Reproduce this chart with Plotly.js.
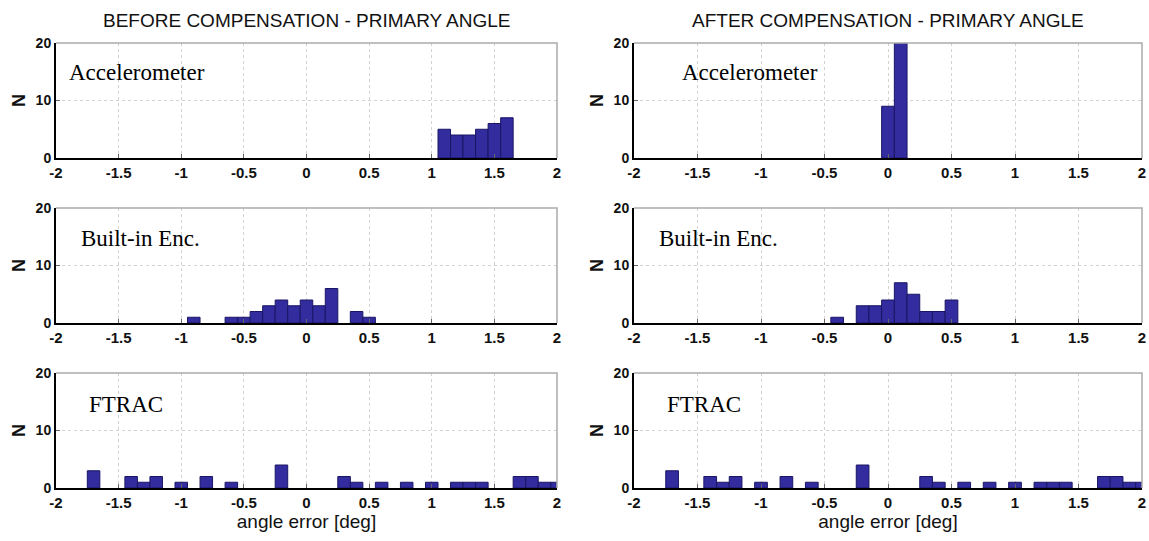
<!DOCTYPE html>
<html>
<head>
<meta charset="utf-8">
<script src="https://cdn.plot.ly/plotly-3.0.1.min.js"></script>
<style>html,body{margin:0;padding:0;background:#fff;}#chart{width:1149px;height:541px;}</style>
</head>
<body>
<div id="chart"></div>
<script>
// ---- data (bin centres in deg, bin width 0.1; counts N) ----
const accBeforeX = [1.1, 1.2, 1.3, 1.4, 1.5, 1.6];
const accBeforeN = [5, 4, 4, 5, 6, 7];
const accAfterX = [0, 0.1];
const accAfterN = [9, 22];
const encBeforeX = [-0.9, -0.6, -0.5, -0.4, -0.3, -0.2, -0.1, 0, 0.1, 0.2, 0.4, 0.5];
const encBeforeN = [1, 1, 1, 2, 3, 4, 3, 4, 3, 6, 2, 1];
const encAfterX = [-0.4, -0.2, -0.1, 0, 0.1, 0.2, 0.3, 0.4, 0.5];
const encAfterN = [1, 3, 3, 4, 7, 5, 2, 2, 4];
const ftracX = [-1.7, -1.4, -1.3, -1.2, -1.0, -0.8, -0.6, -0.2, 0.3, 0.4, 0.6, 0.8, 1.0, 1.2, 1.3, 1.4, 1.7, 1.8, 1.9, 2.0];
const ftracN = [3, 2, 1, 2, 1, 2, 1, 4, 2, 1, 1, 1, 1, 1, 1, 1, 2, 2, 1, 1];
const xTickVals = [-2, -1.5, -1, -0.5, 0, 0.5, 1, 1.5, 2];
const xTickText = ['-2', '-1.5', '-1', '-0.5', '0', '0.5', '1', '1.5', '2'];
const yTickVals = [0, 10, 20];
const panelLabels = ['Accelerometer', 'Built-in Enc.', 'FTRAC'];
const columnTitles = ['BEFORE COMPENSATION - PRIMARY ANGLE', 'AFTER COMPENSATION - PRIMARY ANGLE'];
const xTitle = 'angle error [deg]';
const yTitle = 'N';

const W = 1149, H = 541;
const colPx = [[56, 557], [634, 1142]];
const rowPx = [[43, 158], [208, 323], [373, 488]];
const barColor = 'rgb(50,44,158)';
const edgeColor = 'rgb(26,22,100)';
const sans = 'Liberation Sans, Arial, sans-serif';

const panels = [
  [accBeforeX, accBeforeN], [accAfterX, accAfterN],
  [encBeforeX, encBeforeN], [encAfterX, encAfterN],
  [ftracX, ftracN], [ftracX, ftracN]
];

const data = [];
const layout = {
  width: W, height: H,
  margin: {l: 0, r: 0, t: 0, b: 0},
  paper_bgcolor: '#fff', plot_bgcolor: '#fff',
  showlegend: false, bargap: 0,
  font: {family: sans, color: '#000'},
  annotations: [], shapes: []
};

panels.forEach((p, i) => {
  const r = Math.floor(i / 2), c = i % 2;
  const n = i + 1;
  const xa = 'xaxis' + (n === 1 ? '' : n), ya = 'yaxis' + (n === 1 ? '' : n);
  const xr = 'x' + (n === 1 ? '' : n), yr = 'y' + (n === 1 ? '' : n);
  data.push({
    type: 'bar', x: p[0], y: p[1], width: 0.1, xaxis: xr, yaxis: yr,
    marker: {color: barColor, line: {color: edgeColor, width: 1}},
    hoverinfo: 'x+y'
  });
  const xd = [colPx[c][0] / W, colPx[c][1] / W];
  const yd = [1 - rowPx[r][1] / H, 1 - rowPx[r][0] / H];
  layout[xa] = {
    domain: xd, anchor: yr, range: [-2, 2], tickvals: xTickVals, ticktext: xTickText,
    showgrid: true, gridcolor: '#d2d2d2', griddash: 'dot', gridwidth: 1,
    showline: true, linecolor: '#000', linewidth: 2,
    ticks: 'inside', ticklen: 4, tickcolor: '#666', zeroline: false,
    tickfont: {family: sans, size: 15, weight: 700, color: '#111'}, ticklabelstandoff: 0,
    fixedrange: true
  };
  if (r === 2) {
    layout[xa].title = {text: xTitle, font: {family: sans, size: 19, color: '#111'}, standoff: 4};
  }
  layout[ya] = {
    domain: yd, anchor: xr, range: [0, 20], tickvals: yTickVals,
    showgrid: true, gridcolor: '#d2d2d2', griddash: 'dot', gridwidth: 1,
    showline: true, linecolor: '#000', linewidth: 2,
    ticks: 'inside', ticklen: 4, tickcolor: '#666', zeroline: false,
    tickfont: {family: sans, size: 14, weight: 700, color: '#111'}, ticklabelstandoff: 0,
    title: {text: yTitle, font: {family: sans, size: 18, weight: 700, color: '#111'}, standoff: 5},
    fixedrange: true
  };
  // light box on top / right
  layout.shapes.push({
    type: 'path', xref: xr + ' domain', yref: yr + ' domain',
    path: 'M 0 1 L 1 1 L 1 0', line: {color: '#aaaaaa', width: 1.5}, layer: 'above'
  });
  // panel label
  const labelX = [[67, 680], [79, 657], [87, 665]][r][c];
  const labelY = [72, 238, 404][r];
  layout.annotations.push({
    xref: 'paper', yref: 'paper', x: labelX / W, y: 1 - labelY / H,
    xanchor: 'left', yanchor: 'middle', showarrow: false, text: panelLabels[r],
    font: {family: 'Liberation Serif, Times New Roman, serif', size: 23, color: '#000'}
  });
});

columnTitles.forEach((t, c) => {
  layout.annotations.push({
    xref: 'paper', yref: 'paper', x: ((colPx[c][0] + colPx[c][1]) / 2) / W, y: 1 - 20 / H,
    xanchor: 'center', yanchor: 'middle', showarrow: false, text: t,
    font: {family: sans, size: 19, color: '#111'}
  });
});

Plotly.newPlot('chart', data, layout, {displayModeBar: false, staticPlot: true});
</script>
</body>
</html>
